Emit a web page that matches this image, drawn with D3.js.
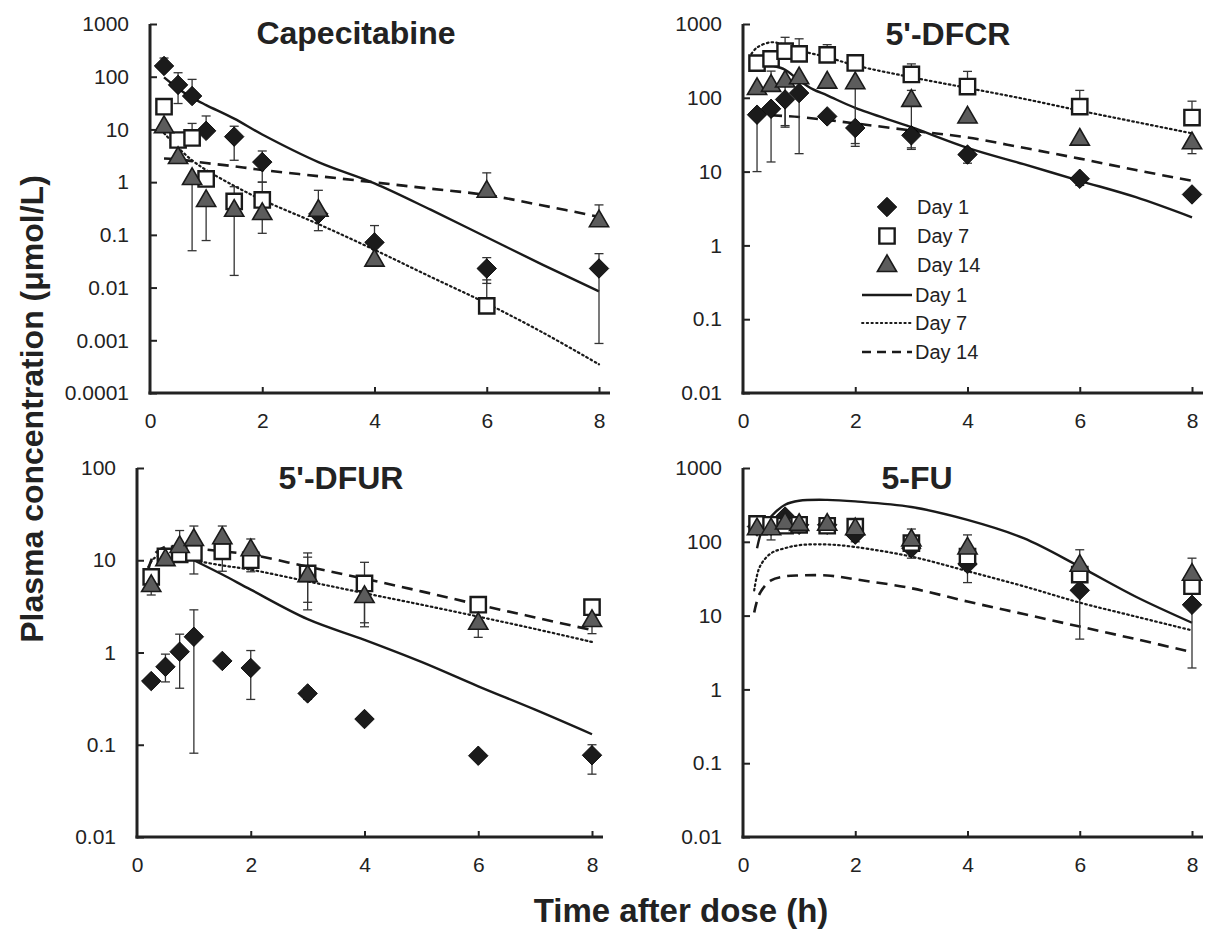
<!DOCTYPE html>
<html>
<head>
<meta charset="utf-8">
<script src="https://cdn.jsdelivr.net/npm/d3@7"></script>
<style>
  body { margin: 0; background: #fff; }
  svg { display: block; font-family: "Liberation Sans", Arial, sans-serif; }
</style>
</head>
<body>
<svg id="chart" width="1214" height="932"></svg>
<script>
// sampling times (h) for the observed means
var times = [0.25, 0.5, 0.75, 1, 1.5, 2, 3, 4, 6, 8];

// ---- Capecitabine ----
var capeDay1  = [160, 70, 43, 9.4, 7.3, 2.4, 0.25, 0.072, 0.023, 0.023];
var capeDay7  = [27, 6.3, 6.9, 1.15, 0.43, 0.46, null, null, 0.0045, null];
var capeDay14 = [11.6, 3.0, 1.2, 0.46, 0.30, 0.26, 0.30, 0.034, 0.69, 0.19];
var capeErr1  = [[null, 226], [31, 119], [null, 89], [null, 18], [2.6, 11.5], [1.0, 3.9], null, [null, 0.15], [0.012, 0.037], [0.00087, 0.044]];
var capeErr7  = [null, null, [null, 13], null, [null, 0.82], [null, 1.0], null, null, [null, 0.014], null];
var capeErr14 = [null, null, [0.05, null], [0.078, null], [0.017, null], [0.107, null], [0.12, 0.7], null, [null, 1.5], [null, 0.37]];
var capeFitT1  = [0.25, 0.5, 0.75, 1, 1.5, 2, 3, 4, 5, 6, 7, 8];
var capeFit1   = [97, 60, 40, 29, 16, 8, 2.4, 0.95, 0.3, 0.09, 0.027, 0.0085];
var capeFitT7  = [0.25, 0.5, 0.75, 1, 1.5, 2, 3, 4, 5, 6, 7, 8];
var capeFit7   = [8.5, 4.5, 2.6, 1.7, 0.85, 0.46, 0.16, 0.052, 0.016, 0.005, 0.0014, 0.00035];
var capeFitT14 = [0.25, 0.5, 0.75, 1, 1.5, 2, 3, 4, 5, 6, 7, 8];
var capeFit14  = [2.8, 2.7, 2.5, 2.3, 2.0, 1.7, 1.3, 0.99, 0.75, 0.57, 0.36, 0.22];

// ---- 5'-DFCR ----
var dfcrDay1  = [59, 71, 95, 116, 56, 39, 31, 17, 8.0, 4.9];
var dfcrDay7  = [295, 337, 428, 394, 382, 297, 207, 142, 76, 54];
var dfcrDay14 = [136, 150, 172, 190, 166, 163, 94, 56, 28, 25];
var dfcrErr1  = [[10, null], [13.5, null], [40, null], [17.5, null], [50, null], [22, null], [20, null], [13, null], [6.5, null], null];
var dfcrErr7  = [null, null, [null, 660], [null, 630], [null, 525], null, [null, 288], [null, 228], [null, 126], [null, 90]];
var dfcrErr14 = [null, [null, 230], [42, null], null, null, [24, null], [21, 126], null, null, [17.5, null]];
var dfcrFitT1  = [0.55, 0.75, 1, 1.25, 1.5, 2, 3, 4, 5, 6, 7, 8];
var dfcrFit1   = [270, 240, 172, 130, 108, 73, 40, 21, 12.6, 7.5, 4.5, 2.4];
var dfcrFitT7  = [0.15, 0.25, 0.5, 0.75, 1, 1.5, 2, 3, 4, 5, 6, 7, 8];
var dfcrFit7   = [395, 480, 565, 520, 440, 355, 275, 190, 136, 97, 67, 47, 33];
var dfcrFitT14 = [0.5, 1, 1.5, 2, 3, 4, 5, 6, 7, 8];
var dfcrFit14  = [58, 55, 50, 45, 36, 29, 21, 15, 10.5, 7.5];

// ---- 5'-DFUR ----
var dfurDay1  = [0.49, 0.70, 1.02, 1.48, 0.81, 0.68, 0.36, 0.19, 0.076, 0.077];
var dfurDay7  = [6.6, 11, 11.6, 12, 12.5, 10, 7.2, 5.6, 3.3, 3.1];
var dfurDay14 = [5.4, 10.3, 14.3, 17, 17.8, 13.2, 6.9, 4.1, 2.1, 2.25];
var dfurErr1  = [null, [0.48, 0.96], [0.41, 1.58], [0.081, 2.9], null, [0.31, 1.05], [0.31, 0.41], null, [0.068, 0.085], [0.048, 0.1]];
var dfurErr7  = [null, null, null, [7.1, null], [7.6, null], [7.5, null], [2.9, 12], [2.1, 9.5], null, null];
var dfurErr14 = [[4.2, null], null, [null, 21], [null, 23.5], [null, 23.5], [null, 17], [3.5, 10.8], [1.9, null], [1.46, null], [1.6, null]];
var dfurFitT1  = [1, 1.5, 2, 3, 4, 5, 6, 7, 8];
var dfurFit1   = [10, 7, 4.8, 2.3, 1.37, 0.79, 0.43, 0.24, 0.13];
var dfurFitT7  = [0.2, 0.3, 0.5, 0.75, 1, 1.5, 2, 3, 4, 5, 6, 7, 8];
var dfurFit7   = [8.5, 10.5, 11.5, 11, 10, 8.8, 7.9, 5.9, 4.4, 3.3, 2.45, 1.8, 1.3];
var dfurFitT14 = [0.2, 0.3, 0.5, 0.75, 1, 1.5, 2, 3, 4, 5, 6, 7, 8];
var dfurFit14  = [8, 11.5, 14, 14, 13.5, 12.5, 11.5, 8.5, 6.3, 4.6, 3.3, 2.4, 1.75];

// ---- 5-FU ----
var fuDay1  = [161, 165, 220, 170, 170, 125, 82, 50, 22, 14];
var fuDay7  = [175, 170, 165, 170, 165, 160, 96, 63, 36, 25];
var fuDay14 = [153, 153, 183, 175, 176, 153, 108, 84, 49, 37];
var fuErr1  = [null, [106, null], null, null, null, [100, null], [60, null], [28, null], [4.8, null], [1.95, null]];
var fuErr7  = [null, null, null, null, null, null, null, null, null, null];
var fuErr14 = [null, null, null, null, null, null, [null, 149], [null, 124], [null, 78], [null, 60]];
var fuFitT1  = [0.25, 0.35, 0.5, 0.75, 1, 1.5, 2, 3, 4, 5, 6, 7, 8];
var fuFit1   = [82, 150, 220, 318, 360, 370, 353, 296, 198, 112, 46, 18, 8];
var fuFitT7  = [0.2, 0.3, 0.5, 0.75, 1, 1.5, 2, 3, 4, 5, 6, 7, 8];
var fuFit7   = [22, 46, 70, 82, 90, 92, 85, 63, 40, 25, 15, 9.7, 6.3];
var fuFitT14 = [0.2, 0.3, 0.5, 0.75, 1, 1.5, 2, 3, 4, 5, 6, 7, 8];
var fuFit14  = [11, 20, 30, 34, 35, 35, 31, 23.5, 15.5, 10.5, 7.1, 4.8, 3.2];

// tick labels
var xTicks = [0, 2, 4, 6, 8];
var yTicksCape = [0.0001, 0.001, 0.01, 0.1, 1, 10, 100, 1000];
var yTicks6 = [0.01, 0.1, 1, 10, 100, 1000];
var yTicks5 = [0.01, 0.1, 1, 10, 100];
var legendLabels = ["Day 1", "Day 7", "Day 14"];

var svg = d3.select('#chart');
var ink = '#222';

var panels = [
    { title: 'Capecitabine', box: [150, 599, 24, 393], ticks: yTicksCape, titleX: 356, titleY: 44,
      obs: [capeDay1, capeDay7, capeDay14], err: [capeErr1, capeErr7, capeErr14],
      fitT: [capeFitT1, capeFitT7, capeFitT14], fit: [capeFit1, capeFit7, capeFit14] },
    { title: "5'-DFCR", box: [743, 1192, 24, 393], ticks: yTicks6, titleX: 948, titleY: 45, legend: true,
      obs: [dfcrDay1, dfcrDay7, dfcrDay14], err: [dfcrErr1, dfcrErr7, dfcrErr14],
      fitT: [dfcrFitT1, dfcrFitT7, dfcrFitT14], fit: [dfcrFit1, dfcrFit7, dfcrFit14] },
    { title: "5'-DFUR", box: [137, 592, 468, 837], ticks: yTicks5, titleX: 341, titleY: 489,
      obs: [dfurDay1, dfurDay7, dfurDay14], err: [dfurErr1, dfurErr7, dfurErr14],
      fitT: [dfurFitT1, dfurFitT7, dfurFitT14], fit: [dfurFit1, dfurFit7, dfurFit14] },
    { title: '5-FU', box: [743, 1192, 468, 837], ticks: yTicks6, titleX: 917, titleY: 489,
      obs: [fuDay1, fuDay7, fuDay14], err: [fuErr1, fuErr7, fuErr14],
      fitT: [fuFitT1, fuFitT7, fuFitT14], fit: [fuFit1, fuFit7, fuFit14] }
];

var lineDash = [null, '1.6,3.2', '11,7'];
var lineWidth = [2.4, 2.2, 2.6];

function fmt(v) {
    return v >= 1 ? String(v) : v.toFixed(Math.round(-Math.log10(v)));
}

function markerPath(kind) {
    if (kind === 0) return d3.symbol().type(d3.symbolSquare).size(190)();
    if (kind === 1) return d3.symbol().type(d3.symbolSquare).size(235)();
    return d3.symbol().type(d3.symbolTriangle).size(160)();
}

function drawMarker(g, kind, x, y) {
    var m = g.append('path').attr('d', markerPath(kind));
    if (kind === 0) {
        m.attr('transform', 'translate(' + x + ',' + y + ') rotate(45)')
         .attr('fill', '#1b1b1b').attr('stroke', '#000').attr('stroke-width', 0.8);
    } else if (kind === 1) {
        m.attr('transform', 'translate(' + x + ',' + y + ')')
         .attr('fill', '#fff').attr('stroke', '#1a1a1a').attr('stroke-width', 2.4);
    } else {
        m.attr('transform', 'translate(' + x + ',' + (y + 1) + ')')
         .attr('fill', '#5c5c5c').attr('stroke', '#1a1a1a').attr('stroke-width', 1.6);
    }
}

panels.forEach(function (p) {
    var xScale = d3.scaleLinear().domain([0, 8]).range([p.box[0], p.box[1]]);
    var yScale = d3.scaleLog().domain([p.ticks[0], p.ticks[p.ticks.length - 1]]).range([p.box[3], p.box[2]]);
    var g = svg.append('g');

    // fitted curves
    var line = d3.line()
        .x(function (d) { return xScale(d[0]); })
        .y(function (d) { return yScale(d[1]); })
        .curve(d3.curveCatmullRom.alpha(0.5));
    p.fit.forEach(function (vals, k) {
        var pts = vals.map(function (v, i) { return [p.fitT[k][i], v]; });
        g.append('path').datum(pts)
            .attr('d', line)
            .attr('fill', 'none')
            .attr('stroke', '#1a1a1a')
            .attr('stroke-width', lineWidth[k])
            .attr('stroke-linecap', k === 1 ? 'round' : 'butt')
            .attr('stroke-dasharray', lineDash[k]);
    });

    // error bars
    p.err.forEach(function (errs, k) {
        errs.forEach(function (e, i) {
            if (!e || p.obs[k][i] == null) return;
            var x = xScale(times[i]);
            var yMid = yScale(p.obs[k][i]);
            [e[0], e[1]].forEach(function (end) {
                if (end == null) return;
                var ye = yScale(end);
                g.append('line').attr('x1', x).attr('x2', x).attr('y1', yMid).attr('y2', ye)
                    .attr('stroke', '#333').attr('stroke-width', 1.3);
                g.append('line').attr('x1', x - 4.5).attr('x2', x + 4.5).attr('y1', ye).attr('y2', ye)
                    .attr('stroke', '#333').attr('stroke-width', 1.3);
            });
        });
    });

    // observed means
    p.obs.forEach(function (vals, k) {
        vals.forEach(function (v, i) {
            if (v == null) return;
            drawMarker(g, k, xScale(times[i]), yScale(v));
        });
    });

    // axes
    var yAxis = g.append('g')
        .attr('transform', 'translate(' + p.box[0] + ',0)')
        .call(d3.axisLeft(yScale).tickValues(p.ticks).tickFormat(fmt).tickSize(-7).tickSizeOuter(0).tickPadding(21));
    yAxis.select('.domain').remove();
    yAxis.selectAll('.tick line').attr('stroke', ink).attr('stroke-width', 2);
    yAxis.selectAll('.tick text').attr('fill', ink).style('font-size', '21px')
        .style('font-family', '"Liberation Sans", Arial, sans-serif');

    var xAxis = g.append('g')
        .attr('transform', 'translate(0,' + p.box[3] + ')')
        .call(d3.axisBottom(xScale).tickValues(xTicks).tickSize(-6).tickSizeOuter(0).tickPadding(20));
    xAxis.select('.domain').remove();
    xAxis.selectAll('.tick line').attr('stroke', ink).attr('stroke-width', 2)
        .attr('opacity', function (d) { return d === 0 ? 0 : 1; });
    xAxis.selectAll('.tick text').attr('fill', ink).style('font-size', '21px')
        .style('font-family', '"Liberation Sans", Arial, sans-serif');

    g.append('line')
        .attr('x1', p.box[0]).attr('x2', p.box[0])
        .attr('y1', p.box[2]).attr('y2', p.box[3] + 1.5)
        .attr('stroke', ink).attr('stroke-width', 3);
    g.append('line')
        .attr('x1', p.box[0] - 1.5).attr('x2', xScale(8) + 11)
        .attr('y1', p.box[3]).attr('y2', p.box[3])
        .attr('stroke', ink).attr('stroke-width', 3);

    g.append('text')
        .attr('x', p.titleX).attr('y', p.titleY)
        .attr('text-anchor', 'middle')
        .attr('fill', ink)
        .style('font-size', '32px').style('font-weight', 'bold')
        .text(p.title);

    if (p.legend) {
        var lg = g.append('g');
        var rowY = [207, 236, 265, 295, 323, 352];
        legendLabels.forEach(function (lab, k) {
            drawMarker(lg, k, 887, rowY[k]);
            lg.append('text').attr('x', 917).attr('y', rowY[k] + 7)
                .attr('fill', ink).style('font-size', '20px').text(lab);
        });
        legendLabels.forEach(function (lab, k) {
            var yy = rowY[k + 3];
            lg.append('line').attr('x1', 862).attr('x2', 912).attr('y1', yy).attr('y2', yy)
                .attr('stroke', '#1a1a1a').attr('stroke-width', k === 1 ? 1.8 : 2.4)
                .attr('stroke-linecap', k === 1 ? 'round' : 'butt')
                .attr('stroke-dasharray', k === 1 ? '1.5,3.2' : (k === 2 ? '9,6' : null));
            lg.append('text').attr('x', 915).attr('y', yy + 7)
                .attr('fill', ink).style('font-size', '20px').text(lab);
        });
    }
});

// shared axis titles
svg.append('text')
    .attr('transform', 'translate(43,409) rotate(-90)')
    .attr('text-anchor', 'middle')
    .attr('fill', ink)
    .style('font-size', '32px').style('font-weight', 'bold')
    .text('Plasma concentration (\u03bcmol/L)');

svg.append('text')
    .attr('x', 681).attr('y', 922)
    .attr('text-anchor', 'middle')
    .attr('fill', ink)
    .style('font-size', '33px').style('font-weight', 'bold')
    .text('Time after dose (h)');
</script>
</body>
</html>
